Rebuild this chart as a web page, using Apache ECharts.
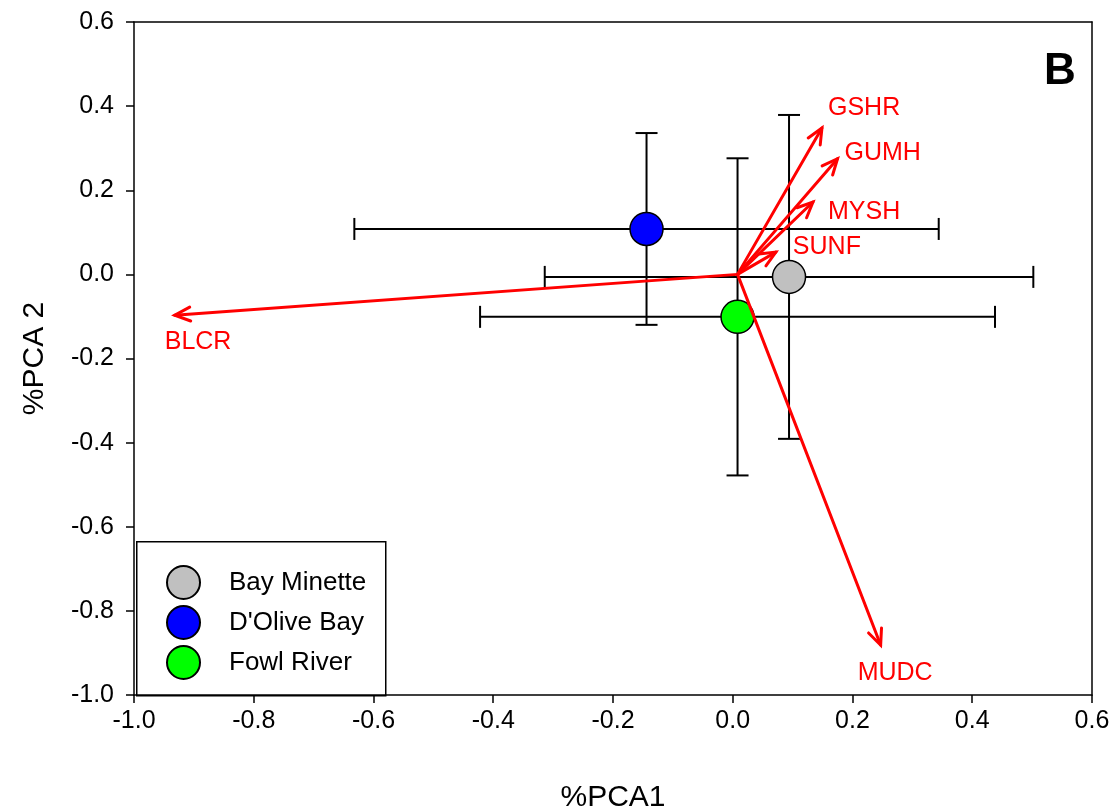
<!DOCTYPE html>
<html>
<head>
<meta charset="utf-8">
<script src="https://cdn.jsdelivr.net/npm/echarts@6/dist/echarts.min.js"></script>
<style>html,body{margin:0;padding:0;background:#fff}#c{width:1120px;height:811px}</style>
</head>
<body>
<div id="c"></div>
<script>
// ---- data ----
const siteNames = ['Bay Minette', "D'Olive Bay", 'Fowl River'];
const siteX = [0.094, -0.144, 0.008];
const siteY = [-0.006, 0.108, -0.101];
const siteXErr = [0.408, 0.488, 0.430];
const siteYErr = [0.385, 0.228, 0.377];

const vectorNames = ['GSHR', 'GUMH', 'MYSH', 'SUNF', 'BLCR', 'MUDC'];
const vectorOriginX = [0.008, 0.008, 0.008, 0.008, 0.008, 0.008];
const vectorOriginY = [0, 0, 0, 0, 0, 0];
const vectorX = [0.149, 0.175, 0.134, 0.072, -0.932, 0.247];
const vectorY = [0.348, 0.275, 0.172, 0.053, -0.097, -0.881];

const axisTicks = [-1.0, -0.8, -0.6, -0.4, -0.2, 0.0, 0.2, 0.4, 0.6];

// ---- styles ----
const siteColors = ['#c0c0c0', '#0000ff', '#00ff00'];
const labelOffsets = {
  GSHR: [6, -20], GUMH: [7, -6], MYSH: [15, 10], SUNF: [17, -5],
  BLCR: [-10, 27], MUDC: [-23, 28]
};
const FONT = "'Liberation Sans', Arial, sans-serif";

const chart = echarts.init(document.getElementById('c'), null, {renderer: 'canvas'});

function axisCommon(extra) {
  return Object.assign({
    type: 'value', min: axisTicks[0], max: axisTicks[axisTicks.length - 1], interval: 0.2,
    splitLine: {show: false},
    axisLine: {show: true, onZero: false, lineStyle: {color: '#000', width: 1.5}},
    axisTick: {show: true, inside: false, length: 8, lineStyle: {color: '#000', width: 1.5}},
    axisLabel: {show: true, color: '#000', fontSize: 25, fontFamily: FONT,
      formatter: v => Number(v).toFixed(1)}
  }, extra);
}

const errData = siteNames.map((n, i) => [siteX[i], siteY[i], siteXErr[i], siteYErr[i]]);
const vecData = vectorNames.map((n, i) => [vectorOriginX[i], vectorOriginY[i], vectorX[i], vectorY[i], n]);

const option = {
  animation: false,
  backgroundColor: '#fff',
  grid: {left: 134, right: 28, top: 22, bottom: 116, containLabel: false, outerBoundsMode: 'none'},
  xAxis: [
    axisCommon({position: 'bottom', name: '%PCA1', nameLocation: 'middle', nameGap: 88,
      nameTextStyle: {fontSize: 30, color: '#000', fontFamily: FONT},
      axisLabel: {show: true, color: '#000', fontSize: 25, fontFamily: FONT, margin: 14,
        formatter: v => Number(v).toFixed(1)}}),
    axisCommon({position: 'top', axisTick: {show: false}, axisLabel: {show: false}})
  ],
  yAxis: [
    axisCommon({position: 'left', name: '%PCA 2', nameLocation: 'middle', nameGap: 84,
      nameTextStyle: {fontSize: 30, color: '#000', fontFamily: FONT},
      axisLabel: {show: true, color: '#000', fontSize: 25, fontFamily: FONT, margin: 20,
        formatter: v => Number(v).toFixed(1)}}),
    axisCommon({position: 'right', axisTick: {show: false}, axisLabel: {show: false}})
  ],
  legend: {
    orient: 'vertical', left: 166, top: 565, padding: 0,
    itemWidth: 33, itemHeight: 33, itemGap: 5,
    icon: 'circle',
    textStyle: {fontSize: 26, lineHeight: 33, color: '#000', fontFamily: FONT, padding: [0, 0, 0, 24]},
    data: siteNames
  },
  graphic: [
    {type: 'rect', left: 136, top: 541, z: 0, zlevel: 0,
      shape: {x: 0, y: 0, width: 249, height: 154},
      style: {fill: '#fff', stroke: '#000', lineWidth: 1.5}},
    {type: 'text', left: 1044, top: 50, z: 10,
      style: {text: 'B', fontSize: 44, fontWeight: 'bold', fill: '#000', font: "bold 44px 'Liberation Sans', Arial"}}
  ],
  series: [
    {
      type: 'custom', name: 'errors', silent: true, z: 2,
      data: errData,
      renderItem: function (params, api) {
        const x = api.value(0), y = api.value(1), ex = api.value(2), ey = api.value(3);
        const l = api.coord([x - ex, y]), r = api.coord([x + ex, y]);
        const t = api.coord([x, y + ey]), b = api.coord([x, y - ey]);
        const cap = 11;
        const st = {stroke: '#000', lineWidth: 2, fill: null};
        const line = (x1, y1, x2, y2) => ({type: 'line', shape: {x1, y1, x2, y2}, style: st});
        return {type: 'group', children: [
          line(l[0], l[1], r[0], r[1]),
          line(l[0], l[1] - cap, l[0], l[1] + cap),
          line(r[0], r[1] - cap, r[0], r[1] + cap),
          line(t[0], t[1], b[0], b[1]),
          line(t[0] - cap, t[1], t[0] + cap, t[1]),
          line(b[0] - cap, b[1], b[0] + cap, b[1])
        ]};
      }
    },
    ...siteNames.map((n, i) => ({
      type: 'scatter', name: n, z: 3,
      symbol: 'circle', symbolSize: 33,
      itemStyle: {color: siteColors[i], borderColor: '#000', borderWidth: 1.5, opacity: 1},
      data: [[siteX[i], siteY[i]]]
    })),
    {
      type: 'custom', name: 'vectors', silent: true, z: 4,
      data: vecData,
      renderItem: function (params, api) {
        const p0 = api.coord([api.value(0), api.value(1)]);
        const p1 = api.coord([api.value(2), api.value(3)]);
        const name = vecData[params.dataIndex][4];
        const ang = Math.atan2(p1[1] - p0[1], p1[0] - p0[0]);
        const hl = 17, ha = 0.42;
        const a1 = [p1[0] - hl * Math.cos(ang - ha), p1[1] - hl * Math.sin(ang - ha)];
        const a2 = [p1[0] - hl * Math.cos(ang + ha), p1[1] - hl * Math.sin(ang + ha)];
        const off = labelOffsets[name] || [5, 0];
        const st = {stroke: '#ff0000', lineWidth: 3, fill: null, lineCap: 'round', lineJoin: 'miter'};
        return {type: 'group', children: [
          {type: 'line', shape: {x1: p0[0], y1: p0[1], x2: p1[0], y2: p1[1]}, style: st},
          {type: 'polyline', shape: {points: [a1, p1, a2]}, style: st},
          {type: 'text', x: p1[0] + off[0], y: p1[1] + off[1],
            style: {text: name, fill: '#ff0000', fontSize: 25, fontFamily: FONT,
              align: 'left', verticalAlign: 'middle'}}
        ]};
      }
    }
  ]
};
chart.setOption(option);
</script>
</body>
</html>
